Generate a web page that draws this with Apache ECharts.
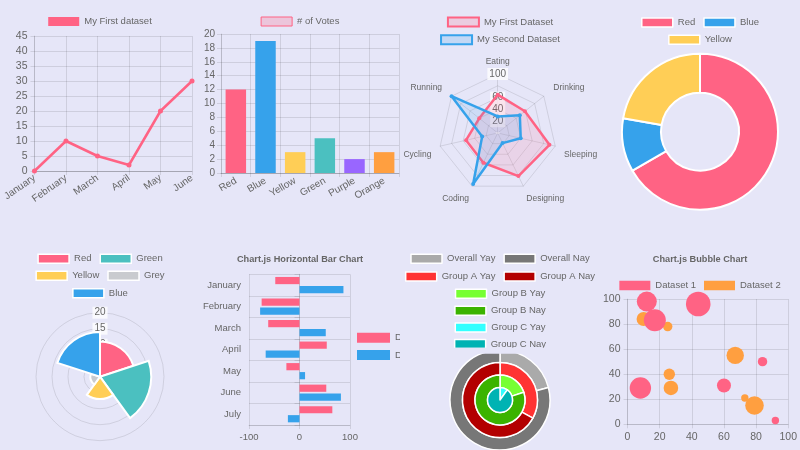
<!DOCTYPE html>
<html>
<head>
<meta charset="utf-8">
<script src="https://cdn.jsdelivr.net/npm/echarts@6/dist/echarts.min.js"></script>
<style>
  html, body { margin: 0; padding: 0; background: #e6e6f8; overflow: hidden; }
  .cell { position: absolute; width: 200px; height: 225px; }
</style>
</head>
<body>
<div id="c1" class="cell" style="left:0;top:0"></div>
<div id="c2" class="cell" style="left:200px;top:0"></div>
<div id="c3" class="cell" style="left:400px;top:0"></div>
<div id="c4" class="cell" style="left:600px;top:0"></div>
<div id="c5" class="cell" style="left:0;top:225px"></div>
<div id="c6" class="cell" style="left:200px;top:225px"></div>
<div id="c7" class="cell" style="left:400px;top:225px"></div>
<div id="c8" class="cell" style="left:600px;top:225px"></div>
<script>
// line chart
const lineMonths = ['January', 'February', 'March', 'April', 'May', 'June']
const lineValues = [0, 10, 5, 2, 20, 30]

// bar chart
const voteLabels = ['Red', 'Blue', 'Yellow', 'Green', 'Purple', 'Orange']
const voteValues = [12, 19, 3, 5, 2, 3]
const voteColors = ['#ff6384', '#36a2eb', '#ffce56', '#4bc0c0', '#9966ff', '#ff9f40']

// radar
const radarAxes = ['Eating', 'Drinking', 'Sleeping', 'Designing', 'Coding', 'Cycling', 'Running']
const radarFirst = [65, 59, 90, 81, 56, 55, 40]
const radarSecond = [28, 48, 40, 19, 96, 27, 100]

// doughnut
const doughnutLabels = ['Red', 'Blue', 'Yellow']
const doughnutValues = [300, 50, 100]
const doughnutColors = ['#ff6384', '#36a2eb', '#ffce56']

// polar area
const polarLabels = ['Red', 'Green', 'Yellow', 'Grey', 'Blue']
const polarValues = [11, 16, 7, 3, 14]
const polarColors = ['#ff6384', '#4bc0c0', '#ffce56', '#c9cbcf', '#36a2eb']

// horizontal bar
const hbarMonths = ['January', 'February', 'March', 'April', 'May', 'June', 'July']
const hbarDataset1 = [-48, -75, -62, 54, -26, 53, 65]
const hbarDataset2 = [87, -78, 52, -67, 11, 82, -23]

// multi series pie
const multiGroups = ['Overall', 'Group A', 'Group B', 'Group C']
const multiYay = [21, 33, 20, 10]
const multiNay = [79, 67, 80, 90]
const multiYayColors = ['#aaaaaa', '#ff3333', '#77ff33', '#33ffff']
const multiNayColors = ['#777777', '#b30000', '#3bb300', '#00b3b3']

// bubble [x, y, r]
const bubbleDataset1 = [[12, 98, 10], [44, 96, 12.3], [17, 83, 11], [8, 29, 10.7], [60, 31, 7], [84, 50, 4.7], [92, 3, 3.7]]
const bubbleDataset2 = [[10, 84, 7], [25, 78, 4.7], [67, 55, 8.7], [26, 40, 5.7], [27, 29, 7.3], [73, 21, 3.7], [79, 15, 9.3]]

const FONT = 'Liberation Sans, Arial, Helvetica, sans-serif'
const TXT = '#666'
const GRIDC = 'rgba(0,0,0,0.1)'
const AXC = 'rgba(0,0,0,0.2)'

// one centred legend row, cy = vertical centre of the row
const legendRow = (names, cy, extra) => Object.assign({
  data: names,
  top: cy - 5.5,
  left: 'center',
  padding: 0,
  icon: 'rect',
  itemWidth: 31,
  itemHeight: 9,
  itemGap: 8,
  selectedMode: false,
  textStyle: {color: TXT, fontSize: 9.5, fontFamily: FONT}
}, extra || {})

const tickLabel = (size) => ({color: TXT, fontSize: size || 10, fontFamily: FONT})

const init = (id) => echarts.init(document.getElementById(id))

// 1. line
init('c1').setOption({
  animation: false,
  textStyle: {fontFamily: FONT},
  legend: legendRow(['My First dataset'], 22, {itemStyle: {color: '#ff6384', borderColor: '#ff6384'}}),
  grid: {left: 31, right: 8, top: 36, bottom: 54},
  xAxis: {
    type: 'category', data: lineMonths, boundaryGap: false,
    axisLine: {lineStyle: {color: AXC}},
    axisTick: {show: true, length: 4, lineStyle: {color: GRIDC}},
    splitLine: {show: true, lineStyle: {color: GRIDC}},
    axisLabel: Object.assign(tickLabel(10), {rotate: 35, margin: 6, interval: 0})
  },
  yAxis: {
    type: 'value', min: 0, max: 45, interval: 5,
    axisLine: {show: true, lineStyle: {color: GRIDC}},
    axisTick: {show: true, length: 4, lineStyle: {color: GRIDC}},
    splitLine: {lineStyle: {color: GRIDC}},
    axisLabel: Object.assign(tickLabel(10.5), {margin: 7})
  },
  series: [{
    name: 'My First dataset', type: 'line', data: lineValues,
    symbol: 'circle', symbolSize: 5,
    lineStyle: {color: '#ff6384', width: 2.5},
    itemStyle: {color: '#ff6384'}
  }]
})

// 2. bar
init('c2').setOption({
  animation: false,
  textStyle: {fontFamily: FONT},
  legend: legendRow(['# of Votes'], 22, {itemStyle: {color: 'rgba(255,99,132,0.25)', borderColor: '#ff6384', borderWidth: 1}}),
  grid: {left: 21, right: 1, top: 34, bottom: 52},
  xAxis: {
    type: 'category', data: voteLabels,
    axisLine: {lineStyle: {color: AXC}},
    axisTick: {show: true, length: 4, lineStyle: {color: GRIDC}},
    splitLine: {show: true, lineStyle: {color: GRIDC}},
    axisLabel: Object.assign(tickLabel(10), {rotate: 30, margin: 7, interval: 0})
  },
  yAxis: {
    type: 'value', min: 0, max: 20, interval: 2,
    axisLine: {show: true, lineStyle: {color: GRIDC}},
    axisTick: {show: true, length: 4, lineStyle: {color: GRIDC}},
    splitLine: {lineStyle: {color: GRIDC}},
    axisLabel: Object.assign(tickLabel(10), {margin: 6})
  },
  series: [{
    name: '# of Votes', type: 'bar', barWidth: '69%',
    data: voteValues.map((v, i) => ({value: v, itemStyle: {color: voteColors[i]}}))
  }]
})

// 3. radar (echarts radar runs counter-clockwise, so feed it in reverse after the first axis)
const radarOrder = [0, 6, 5, 4, 3, 2, 1]
// chart.js pushes the lower point labels down a bit, nudge them with rich padding
const nameSlot = ['top', 'up', 'mid', 'low', 'low', 'mid', 'up']
init('c3').setOption({
  animation: false,
  textStyle: {fontFamily: FONT},
  legend: [
    legendRow(['My First Dataset'], 22, {itemStyle: {color: 'rgba(255,99,132,0.2)', borderColor: '#ff6384', borderWidth: 2}}),
    legendRow(['My Second Dataset'], 39.7, {itemStyle: {color: 'rgba(54,162,235,0.2)', borderColor: '#36a2eb', borderWidth: 2}})
  ],
  radar: {
    center: [97.7, 133], radius: 59, startAngle: 90, splitNumber: 5, shape: 'polygon',
    indicator: radarOrder.map(i => ({name: radarAxes[i], min: 0, max: 100})),
    nameGap: 7,
    axisName: {
      color: TXT, fontSize: 8.5, fontFamily: FONT,
      formatter: (name) => '{' + nameSlot[radarAxes.indexOf(name)] + '|' + name + '}',
      rich: {
        top: {color: TXT, fontSize: 8.5, padding: [0, 0, 1, 0]},
        up: {color: TXT, fontSize: 8.5, padding: [0, 4, 8, 4]},
        mid: {color: TXT, fontSize: 8.5, padding: [14, 2, 0, 2]},
        low: {color: TXT, fontSize: 8.5, padding: [12, 0, 0, 0]}
      }
    },
    splitLine: {lineStyle: {color: 'rgba(0,0,0,0.1)'}},
    splitArea: {show: false},
    axisLine: {lineStyle: {color: 'rgba(0,0,0,0.1)'}}
  },
  polar: {center: [97.7, 133], radius: 59},
  angleAxis: {type: 'value', startAngle: 90, show: false},
  radiusAxis: {
    type: 'value', min: 0, max: 100, interval: 20, z: 0,
    axisLine: {show: false}, axisTick: {show: false}, splitLine: {show: false},
    axisLabel: {
      color: TXT, fontSize: 10, fontFamily: FONT, align: 'center', margin: 0,
      showMaxLabel: true, hideOverlap: false,
      backgroundColor: 'rgba(255,255,255,0.75)', padding: [1, 2],
      formatter: v => (v === 0 ? '' : v)
    }
  },
  series: [{
    type: 'radar', symbol: 'circle', symbolSize: 4, z: 3,
    data: [
      {
        name: 'My First Dataset', value: radarOrder.map(i => radarFirst[i]),
        lineStyle: {color: '#ff6384', width: 2.5}, itemStyle: {color: '#ff6384'},
        areaStyle: {color: 'rgba(255,99,132,0.2)'}
      },
      {
        name: 'My Second Dataset', value: radarOrder.map(i => radarSecond[i]),
        lineStyle: {color: '#36a2eb', width: 2.5}, itemStyle: {color: '#36a2eb'},
        areaStyle: {color: 'rgba(54,162,235,0.2)'}
      }
    ]
  }]
})

// 4. doughnut
init('c4').setOption({
  animation: false,
  textStyle: {fontFamily: FONT},
  legend: [
    legendRow(doughnutLabels.slice(0, 2), 22.7, {itemStyle: {borderColor: '#fff', borderWidth: 1.5}}),
    legendRow(doughnutLabels.slice(2), 40, {itemStyle: {borderColor: '#fff', borderWidth: 1.5}})
  ],
  series: [{
    type: 'pie', center: [100, 131.7], radius: [39, 78], startAngle: 90,
    label: {show: false}, labelLine: {show: false},
    itemStyle: {borderColor: '#fff', borderWidth: 2},
    data: doughnutLabels.map((n, i) => ({name: n, value: doughnutValues[i], itemStyle: {color: doughnutColors[i]}}))
  }]
})

// 5. polar area
init('c5').setOption({
  animation: false,
  textStyle: {fontFamily: FONT},
  legend: [
    legendRow(polarLabels.slice(0, 2), 34, {itemStyle: {borderColor: '#fff', borderWidth: 1.5}}),
    legendRow(polarLabels.slice(2, 4), 51, {itemStyle: {borderColor: '#fff', borderWidth: 1.5}}),
    legendRow(polarLabels.slice(4), 68.5, {itemStyle: {borderColor: '#fff', borderWidth: 1.5}})
  ],
  polar: {center: [100, 151.7], radius: 64},
  angleAxis: {
    type: 'category', data: polarLabels, startAngle: 90, clockwise: true,
    axisLine: {show: false}, axisTick: {show: false}, axisLabel: {show: false}, splitLine: {show: false}
  },
  radiusAxis: {
    type: 'value', min: 0, max: 20, interval: 5, z: 0,
    axisLine: {show: false}, axisTick: {show: false},
    splitLine: {show: true, lineStyle: {color: GRIDC}},
    axisLabel: {
      color: TXT, fontSize: 10, fontFamily: FONT, align: 'center', margin: 0,
      showMaxLabel: true, hideOverlap: false,
      backgroundColor: 'rgba(255,255,255,0.75)', padding: [1, 2],
      formatter: v => (v === 0 ? '' : v)
    }
  },
  series: polarLabels.map((n, i) => ({
    name: n, type: 'bar', coordinateSystem: 'polar', stack: 'area', barCategoryGap: '0%',
    itemStyle: {color: polarColors[i], borderColor: '#fff', borderWidth: 2},
    data: polarValues.map((v, j) => (j === i ? v : '-'))
  }))
})

// 6. horizontal bar
init('c6').setOption({
  animation: false,
  textStyle: {fontFamily: FONT},
  title: {
    text: 'Chart.js Horizontal Bar Chart', left: 'center', top: 29.5, padding: 0,
    textStyle: {color: TXT, fontSize: 9.2, fontWeight: 'bold', fontFamily: FONT}
  },
  legend: {
    data: ['Dataset 1', 'Dataset 2'], orient: 'vertical', left: 157, top: 107.7, padding: 0,
    icon: 'rect', itemWidth: 33, itemHeight: 10, itemGap: 7.3, selectedMode: false,
    textStyle: {color: TXT, fontSize: 9.5, fontFamily: FONT}
  },
  grid: {left: 48.3, right: 50, top: 49.3, bottom: 25},
  xAxis: {
    type: 'value', min: -100, max: 100, interval: 100,
    axisLine: {show: true, lineStyle: {color: GRIDC}},
    axisTick: {show: true, length: 4, lineStyle: {color: GRIDC}},
    splitLine: {lineStyle: {color: GRIDC}},
    axisLabel: Object.assign(tickLabel(9.5), {margin: 7})
  },
  yAxis: {
    type: 'category', data: hbarMonths, inverse: true,
    axisLine: {lineStyle: {color: GRIDC}},
    axisTick: {show: true, length: 5, lineStyle: {color: GRIDC}},
    splitLine: {show: true, lineStyle: {color: GRIDC}},
    axisLabel: Object.assign(tickLabel(9.5), {margin: 8})
  },
  series: [
    {name: 'Dataset 1', type: 'bar', data: hbarDataset1, barWidth: 7.2, barGap: '25%', itemStyle: {color: '#ff6384'}},
    {name: 'Dataset 2', type: 'bar', data: hbarDataset2, barWidth: 7.2, barGap: '25%', itemStyle: {color: '#36a2eb'}}
  ]
})

// 7. multi series pie
const multiR = 50
const multiNames = multiGroups.flatMap(g => [g + ' Yay', g + ' Nay'])
init('c7').setOption({
  animation: false,
  textStyle: {fontFamily: FONT},
  legend: [
    legendRow(multiNames.slice(0, 2), 34, {itemStyle: {borderColor: '#fff', borderWidth: 1.5}}),
    legendRow(multiNames.slice(2, 4), 51.7, {itemStyle: {borderColor: '#fff', borderWidth: 1.5}}),
    legendRow(multiNames.slice(4, 5), 69, {itemStyle: {borderColor: '#fff', borderWidth: 1.5}}),
    legendRow(multiNames.slice(5, 6), 86, {itemStyle: {borderColor: '#fff', borderWidth: 1.5}}),
    legendRow(multiNames.slice(6, 7), 102.7, {itemStyle: {borderColor: '#fff', borderWidth: 1.5}}),
    legendRow(multiNames.slice(7, 8), 119.3, {itemStyle: {borderColor: '#fff', borderWidth: 1.5}})
  ],
  // the chart area clips the bottom of the last legend row in the original
  graphic: [{
    type: 'rect', left: 0, top: 122.7, z: 100,
    shape: {width: 200, height: 6},
    style: {fill: '#e6e6f8'}
  }],
  series: multiGroups.map((g, i) => ({
    name: g, type: 'pie', center: [100, 175], startAngle: 90,
    radius: [multiR * (3 - i) / 4, multiR * (4 - i) / 4],
    label: {show: false}, labelLine: {show: false},
    itemStyle: {borderColor: '#fff', borderWidth: 1.5},
    data: [
      {name: g + ' Yay', value: multiYay[i], itemStyle: {color: multiYayColors[i]}},
      {name: g + ' Nay', value: multiNay[i], itemStyle: {color: multiNayColors[i]}}
    ]
  }))
})

// 8. bubble
init('c8').setOption({
  animation: false,
  textStyle: {fontFamily: FONT},
  title: {
    text: 'Chart.js Bubble Chart', left: 'center', top: 29.5, padding: 0,
    textStyle: {color: TXT, fontSize: 9.2, fontWeight: 'bold', fontFamily: FONT}
  },
  legend: legendRow(['Dataset 1', 'Dataset 2'], 61, {itemHeight: 9.5}),
  grid: {left: 26.7, right: 11.7, top: 74, bottom: 25.7},
  xAxis: {
    type: 'value', min: 0, max: 100, interval: 20,
    axisLine: {show: true, lineStyle: {color: GRIDC}},
    axisTick: {show: true, length: 4, lineStyle: {color: GRIDC}},
    splitLine: {lineStyle: {color: GRIDC}},
    axisLabel: Object.assign(tickLabel(10.5), {margin: 7})
  },
  yAxis: {
    type: 'value', min: 0, max: 100, interval: 20,
    axisLine: {show: true, lineStyle: {color: GRIDC}},
    axisTick: {show: true, length: 4, lineStyle: {color: GRIDC}},
    splitLine: {lineStyle: {color: GRIDC}},
    axisLabel: Object.assign(tickLabel(10.5), {margin: 7})
  },
  series: [
    {name: 'Dataset 1', type: 'scatter', data: bubbleDataset1, z: 3, symbolSize: d => d[2] * 2, itemStyle: {color: '#ff6384', opacity: 1}},
    {name: 'Dataset 2', type: 'scatter', data: bubbleDataset2, z: 2, symbolSize: d => d[2] * 2, itemStyle: {color: '#ff9f40', opacity: 1}}
  ]
})
</script>
</body>
</html>
